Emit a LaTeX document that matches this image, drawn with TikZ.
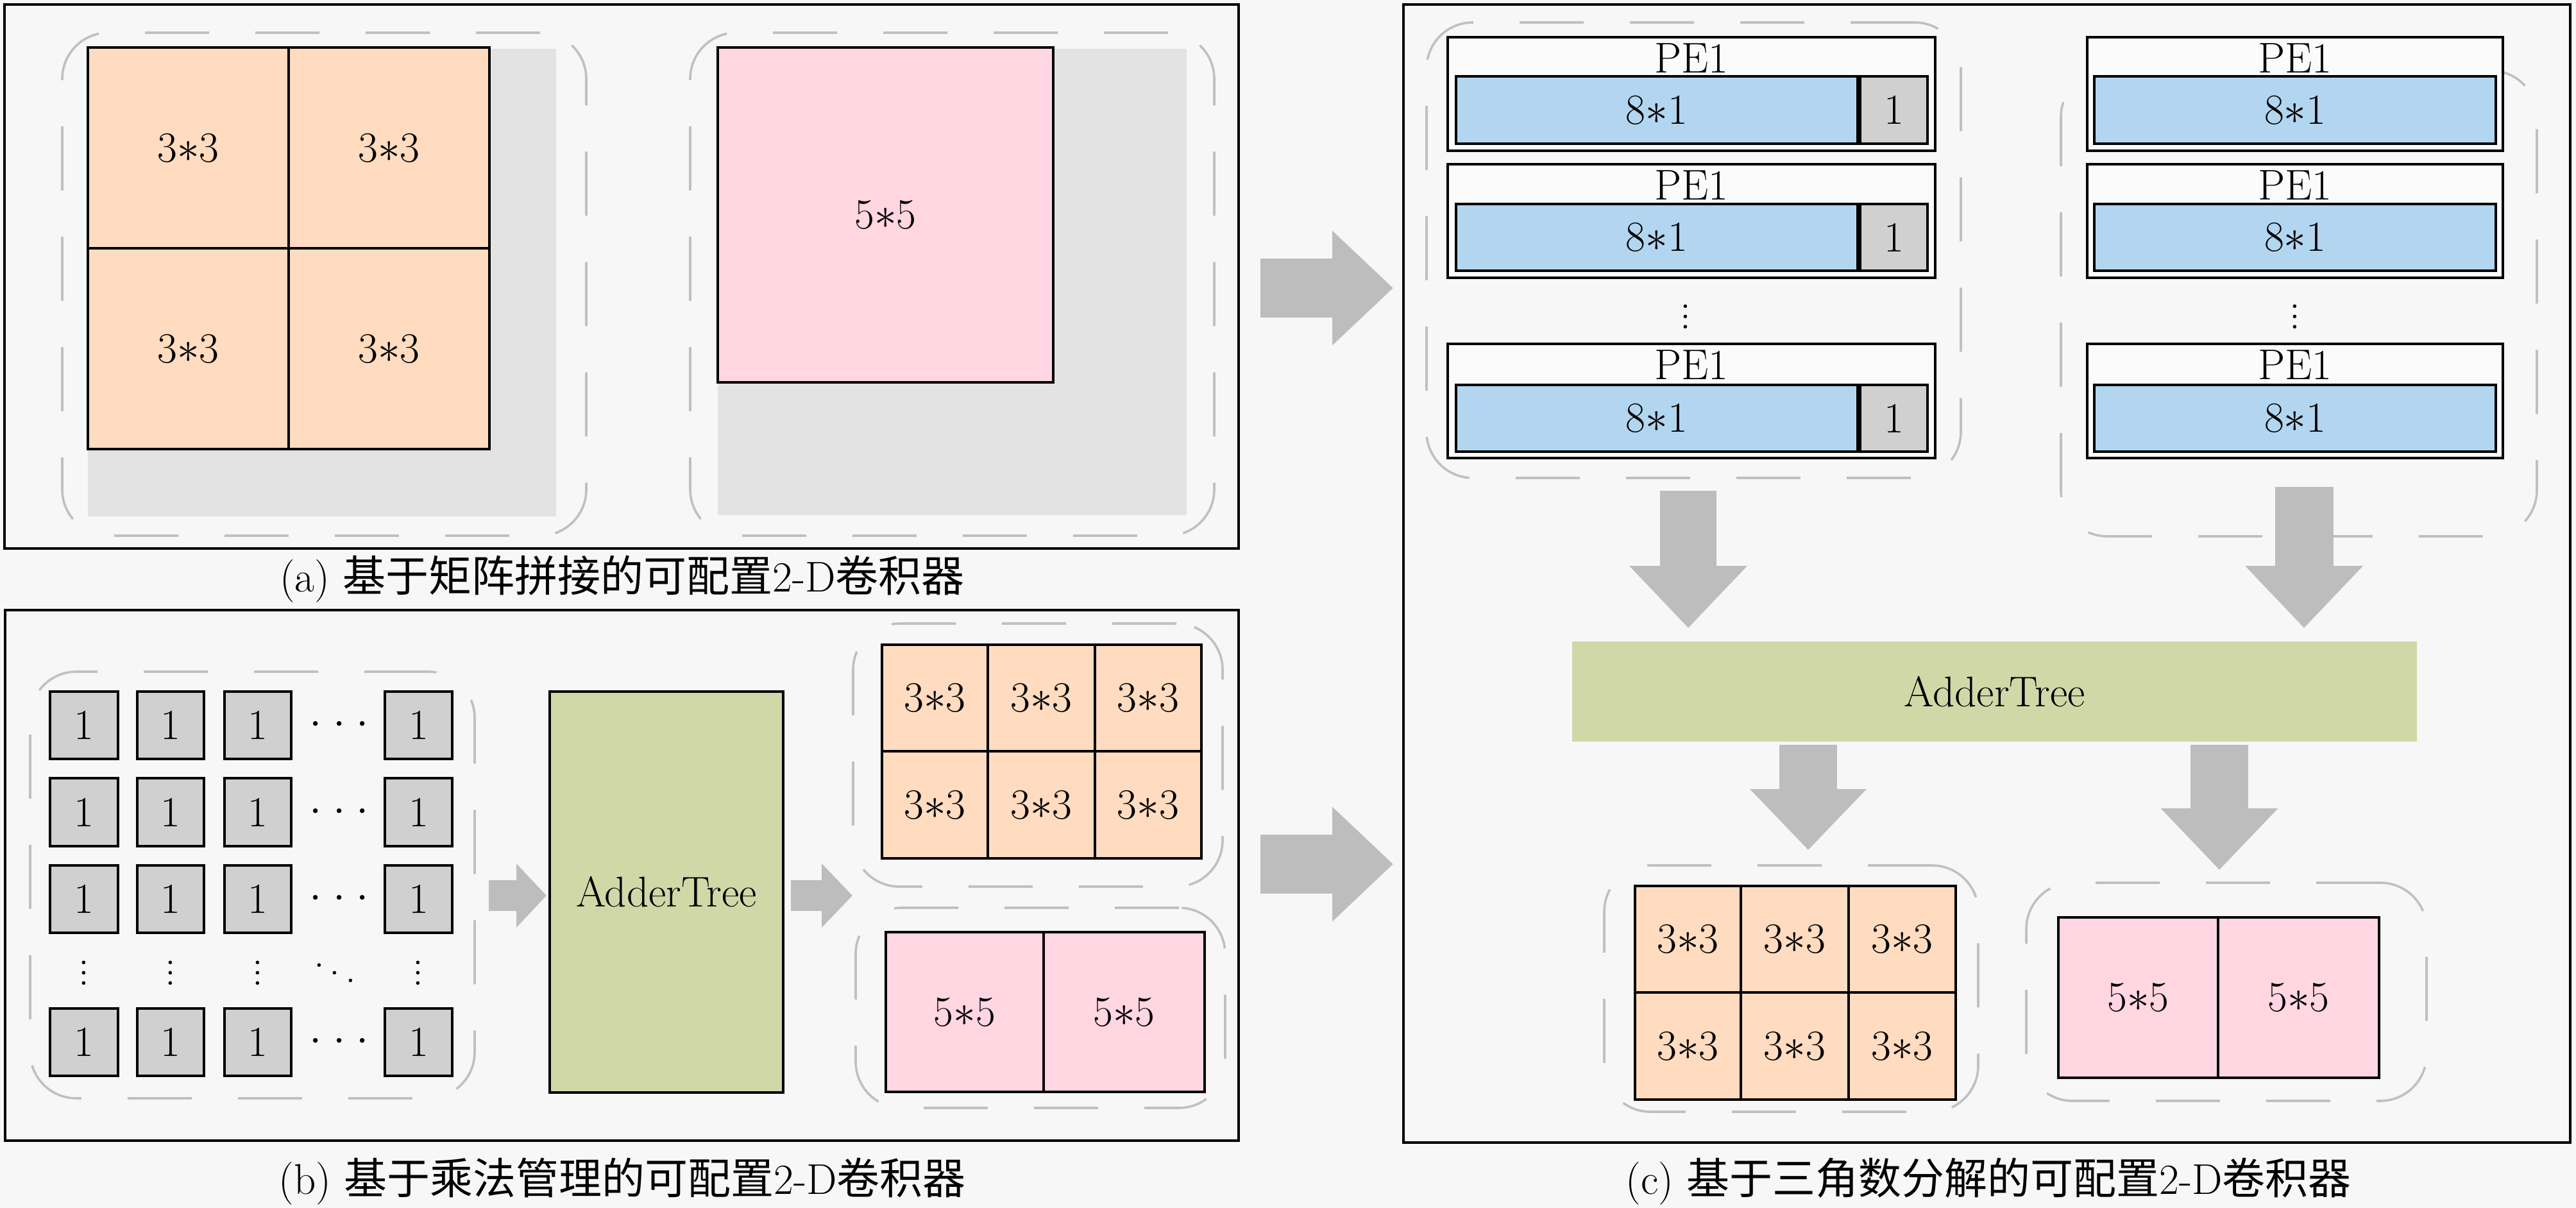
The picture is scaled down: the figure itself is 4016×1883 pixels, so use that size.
\documentclass[tikz,border=0pt]{standalone}
\usepackage{fontspec}
\newfontfamily\cjk{Noto Sans CJK SC}
\usetikzlibrary{fit,arrows.meta}
\definecolor{bgc}{RGB}{247,247,247}
\definecolor{peach}{RGB}{255,220,192}
\definecolor{pinkc}{RGB}{255,214,225}
\definecolor{bluec}{RGB}{178,214,240}
\definecolor{grayc}{RGB}{208,208,208}
\definecolor{shadowc}{RGB}{227,227,227}
\definecolor{greenc}{RGB}{209,216,168}
\definecolor{arrowc}{RGB}{189,189,189}
\definecolor{dashc}{RGB}{192,192,192}
\tikzset{
 txt/.style={font=\fontsize{16.75}{20}\selectfont, inner sep=0pt},
 panel/.style={draw=black, line width=1.1pt, inner sep=0pt},
 dashbox/.style={draw=dashc, line width=0.9pt, dash pattern=on 25pt off 18pt, rounded corners=18pt, inner sep=0pt},
 shadowbox/.style={fill=shadowc, inner sep=0pt},
 cellbox/.style={draw=black, line width=1pt, inner sep=0pt},
 orangecell/.style={cellbox, fill=peach},
 pinkcell/.style={cellbox, fill=pinkc},
 onecell/.style={cellbox, fill=grayc},
 bluecell/.style={cellbox, fill=bluec},
 pecell/.style={draw=black, line width=1pt, fill=white!55!bgc, inner sep=0pt},
 addercell/.style={cellbox, fill=greenc},
 adderbar/.style={fill=greenc, inner sep=0pt},
 blockarrow/.style n args={3}{draw=arrowc, line width=#1, -{Triangle[length=#2,width=#3]}},
}
\newcommand\bx[6]{\node[#1, fit={(#2,#3) (#4,#5)}] (#6) {};}
\newcommand\tbx[7]{\node[#1, fit={(#2,#3) (#4,#5)}] (#6) {};
  \node[txt] (#6t) at (#6.center) {#7};}
\newcommand\hdots{$\cdotp\mkern1.5mu\cdotp\mkern1.5mu\cdotp$}
\begin{document}
\begin{tikzpicture}[x=0.25pt,y=-0.25pt]
\useasboundingbox (0,0) rectangle (4016,1883);
\fill[bgc] (0,0) rectangle (4016,1883);

% ---------------- panels ----------------
\bx{panel}{7}{7}{1931}{855}{pa}
\bx{panel}{8}{951}{1931}{1778}{pb}
\bx{panel}{2188}{7}{4007}{1781}{pc}

\node[txt] (capa) at (970,903) {(a) {\cjk 基于矩阵拼接的可配置}2-D{\cjk 卷积器}};
\node[txt] (capb) at (970,1842) {(b) {\cjk 基于乘法管理的可配置}2-D{\cjk 卷积器}};
\node[txt] (capc) at (3100,1842) {(c) {\cjk 基于三角数分解的可配置}2-D{\cjk 卷积器}};

% ---------------- panel (a) ----------------
\bx{dashbox}{97}{51}{914}{835}{adl}
\bx{shadowbox}{137}{76}{867}{805}{ashl}
\tbx{orangecell}{137}{74}{450}{387}{a11}{3$*$3}
\tbx{orangecell}{450}{74}{763}{387}{a12}{3$*$3}
\tbx{orangecell}{137}{387}{450}{700}{a21}{3$*$3}
\tbx{orangecell}{450}{387}{763}{700}{a22}{3$*$3}

\bx{dashbox}{1076}{51}{1893}{835}{adr}
\bx{shadowbox}{1119}{76}{1850}{803}{ashr}
\tbx{pinkcell}{1119}{74}{1642}{596}{a55}{5$*$5}

% arrows between panels
\coordinate (ab1s) at (1965,449);
\coordinate (ab1e) at (2172,449);
\draw[blockarrow={23pt}{23.75pt}{43.25pt}] (ab1s) -- (ab1e);
\coordinate (ab2s) at (1965,1347);
\coordinate (ab2e) at (2172,1347);
\draw[blockarrow={23pt}{23.75pt}{43.25pt}] (ab2s) -- (ab2e);

% ---------------- panel (b) ----------------
\bx{dashbox}{47}{1047}{740}{1712}{bdl}
\foreach \xa/\xb/\c in {78/184/1,214/318/2,350/454/3,600/705/4}{
  \foreach \ya/\yb/\r in {1078/1183/1,1213/1319/2,1349/1454/3,1572/1677/5}{
    \tbx{onecell}{\xa}{\ya}{\xb}{\yb}{b\r\c}{1}
  }
}
\foreach \y/\r in {1130/1,1266/2,1401/3,1624/5}{
  \node[txt] (bh\r) at (529,\y) {\hdots};
}
\foreach \x/\c in {131/1,266/2,402/3,652/4}{
  \node[txt] (bv\c) at (\x,1505) {$\vdots$};
}
\node[txt] (bdd) at (522,1505) {$\ddots$};

\tbx{addercell}{857}{1078}{1221}{1703}{badd}{AdderTree}

\coordinate (bs1s) at (762,1396);
\coordinate (bs1e) at (852,1396);
\draw[blockarrow={12pt}{11.75pt}{24.25pt}] (bs1s) -- (bs1e);
\coordinate (bs2s) at (1233,1396);
\coordinate (bs2e) at (1329,1396);
\draw[blockarrow={12pt}{12pt}{24.25pt}] (bs2s) -- (bs2e);

\bx{dashbox}{1330}{972}{1906}{1382}{bdr1}
\foreach \xa/\xb/\c in {1375/1540/1,1540/1707/2,1707/1873/3}{
  \foreach \ya/\yb/\r in {1005/1171/1,1171/1338/2}{
    \tbx{orangecell}{\xa}{\ya}{\xb}{\yb}{bo\r\c}{3$*$3}
  }
}
\bx{dashbox}{1334}{1415}{1910}{1727}{bdr2}
\tbx{pinkcell}{1381}{1453}{1627}{1702}{bp1}{5$*$5}
\tbx{pinkcell}{1627}{1453}{1878}{1702}{bp2}{5$*$5}

% ---------------- panel (c) ----------------
\bx{dashbox}{2224}{35}{3057}{745}{cdl}
\bx{dashbox}{3213}{110}{3955}{836}{cdr}
\foreach \ya/\yb/\ba/\bb/\r in {58/235/119/224/1,256/433/318/422/2,536/714/600/704/3}{
  \bx{pecell}{2257}{\ya}{3017}{\yb}{cpl\r}
  \node[txt] (cpll\r) at (2637,\ya+33) {PE1};
  \tbx{bluecell}{2270}{\ba}{2896}{\bb}{cbl\r}{8$*$1}
  \tbx{onecell}{2900}{\ba}{3005}{\bb}{cgl\r}{1}
  \bx{pecell}{3254}{\ya}{3902}{\yb}{cpr\r}
  \node[txt] (cprl\r) at (3578,\ya+33) {PE1};
  \tbx{bluecell}{3265}{\ba}{3891}{\bb}{cbr\r}{8$*$1}
}
\node[txt] (cvl) at (2628,482) {$\vdots$};
\node[txt] (cvr) at (3578,482) {$\vdots$};

\coordinate (cd1s) at (2632,765);
\coordinate (cd1e) at (2632,979);
\draw[blockarrow={22pt}{24.25pt}{44.5pt}] (cd1s) -- (cd1e);
\coordinate (cd2s) at (3592,759);
\coordinate (cd2e) at (3592,979);
\draw[blockarrow={22.75pt}{24.25pt}{44.5pt}] (cd2s) -- (cd2e);

\tbx{adderbar}{2451}{1000}{3768}{1156}{cadd}{AdderTree}

\coordinate (cd3s) at (2819,1161);
\coordinate (cd3e) at (2819,1325);
\draw[blockarrow={22.5pt}{23.75pt}{44pt}] (cd3s) -- (cd3e);
\coordinate (cd4s) at (3460,1161);
\coordinate (cd4e) at (3460,1356);
\draw[blockarrow={22.5pt}{24pt}{44.25pt}] (cd4s) -- (cd4e);

\bx{dashbox}{2501}{1349}{3084}{1733}{cdo}
\foreach \xa/\xb/\c in {2549/2714/1,2714/2882/2,2882/3049/3}{
  \foreach \ya/\yb/\r in {1381/1547/1,1547/1714/2}{
    \tbx{orangecell}{\xa}{\ya}{\xb}{\yb}{co\r\c}{3$*$3}
  }
}
\bx{dashbox}{3159}{1376}{3783}{1716}{cdp}
\tbx{pinkcell}{3209}{1430}{3458}{1680}{cp1}{5$*$5}
\tbx{pinkcell}{3458}{1430}{3709}{1680}{cp2}{5$*$5}
\end{tikzpicture}
\end{document}
